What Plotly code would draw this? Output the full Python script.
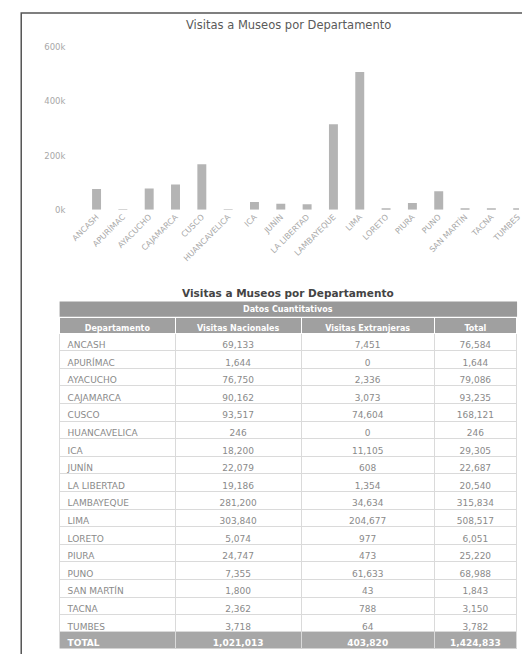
import plotly.graph_objects as go

departamentos = ["ANCASH", "APURÍMAC", "AYACUCHO", "CAJAMARCA", "CUSCO", "HUANCAVELICA",
                 "ICA", "JUNÍN", "LA LIBERTAD", "LAMBAYEQUE", "LIMA", "LORETO", "PIURA",
                 "PUNO", "SAN MARTÍN", "TACNA", "TUMBES"]
visitas_nacionales = [69133, 1644, 76750, 90162, 93517, 246, 18200, 22079, 19186,
                      281200, 303840, 5074, 24747, 7355, 1800, 2362, 3718]
visitas_extranjeras = [7451, 0, 2336, 3073, 74604, 0, 11105, 608, 1354,
                       34634, 204677, 977, 473, 61633, 43, 788, 64]
total_visitas = [76584, 1644, 79086, 93235, 168121, 246, 29305, 22687, 20540,
                 315834, 508517, 6051, 25220, 68988, 1843, 3150, 3782]
fila_total = ["TOTAL", 1021013, 403820, 1424833]
columnas = ["Departamento", "Visitas Nacionales", "Visitas Extranjeras", "Total"]
y_tick_vals = [0, 200000, 400000, 600000]
y_tick_text = ["0k", "200k", "400k", "600k"]

W, H = 522, 654
FONT = "DejaVu Sans, Verdana, sans-serif"
COLW = [119, 130, 137, 85]
HEAD_H = 16
ROW_H = 17.6
TABLE_TOP = 317


def px(x):
    return x / W


def py(y):
    return min(1.0, max(0.0, 1 - y / H))


def fmt(v):
    return f"{v:,}"


fig = go.Figure()

fig.add_trace(go.Bar(
    x=departamentos, y=total_visitas,
    marker=dict(color="#b4b4b4", line=dict(width=0)),
    hoverinfo="x+y", showlegend=False,
))

n = len(departamentos)
body_bottom = TABLE_TOP + HEAD_H + n * ROW_H
total_top = body_bottom + 4

fig.add_trace(go.Table(
    domain=dict(x=[px(49), px(520)], y=[0, py(TABLE_TOP)]),
    columnwidth=COLW,
    header=dict(
        values=columnas,
        fill_color="#a0a0a0",
        line=dict(color="white", width=1),
        font=dict(family=FONT, size=8, color="white", weight="bold"),
        align="center",
        height=HEAD_H,
    ),
    cells=dict(
        values=[departamentos,
                [fmt(v) for v in visitas_nacionales],
                [fmt(v) for v in visitas_extranjeras],
                [fmt(v) for v in total_visitas]],
        fill_color="white",
        line=dict(color="#dadada", width=1),
        font=dict(family=FONT, size=9, color="#8a8a8a"),
        align=["left", "center", "center", "center"],
        height=ROW_H,
    ),
))

# TOTAL row drawn as the header of a second table, so it can be bold
fig.add_trace(go.Table(
    domain=dict(x=[px(49), px(520)], y=[py(total_top + ROW_H), py(total_top)]),
    columnwidth=COLW,
    header=dict(
        values=[fila_total[0]] + [fmt(v) for v in fila_total[1:]],
        fill_color="#a7a7a7",
        line=dict(color="#dadada", width=1),
        font=dict(family=FONT, size=9, color="white", weight="bold"),
        align=["left", "center", "center", "center"],
        height=ROW_H,
    ),
    cells=dict(values=[[], [], [], []], height=ROW_H),
))

fig.update_layout(
    width=W, height=H,
    margin=dict(l=0, r=0, t=0, b=0),
    paper_bgcolor="white", plot_bgcolor="white",
    bargap=0.66,
    xaxis=dict(
        domain=[px(73.5), 1],
        range=[-0.5, 16.05],
        showgrid=False, zeroline=False, showline=False,
        tickangle=-45,
        tickfont=dict(family=FONT, size=8, color="#a8a8a8"),
        fixedrange=True,
    ),
    yaxis=dict(
        domain=[py(208), py(43)],
        range=[0, 600000],
        tickvals=y_tick_vals, ticktext=y_tick_text,
        showgrid=False, zeroline=False, showline=False,
        ticklabelstandoff=17,
        tickfont=dict(family=FONT, size=8.5, color="#a8a8a8"),
        fixedrange=True,
    ),
    font=dict(family=FONT),
    shapes=[
        dict(type="rect", xref="paper", yref="paper",
             x0=px(9.5), x1=px(540), y0=-0.03, y1=py(8),
             line=dict(color="#555555", width=1.5), fillcolor="rgba(0,0,0,0)"),
        dict(type="rect", xref="paper", yref="paper",
             x0=px(49), x1=px(520), y0=py(316.5), y1=py(301),
             line=dict(color="#999999", width=0), fillcolor="#999999"),
    ],
    annotations=[
        dict(text="Visitas a Museos por Departamento", xref="paper", yref="paper",
             x=px(285), y=py(20), xanchor="center", yanchor="middle", showarrow=False,
             font=dict(family=FONT, size=11.5, color="#5a5a5a")),
        dict(text="<b>Visitas a Museos por Departamento</b>", xref="paper", yref="paper",
             x=px(284), y=py(292), xanchor="center", yanchor="middle", showarrow=False,
             font=dict(family=FONT, size=10.5, color="#444444")),
        dict(text="<b>Datos Cuantitativos</b>", xref="paper", yref="paper",
             x=px(284.5), y=py(309), xanchor="center", yanchor="middle", showarrow=False,
             font=dict(family=FONT, size=8, color="white")),
    ],
)

fig.write_html("out.html",
               config={"displayModeBar": False},
               post_script="document.body.style.margin='0';document.body.style.overflow='hidden';")
